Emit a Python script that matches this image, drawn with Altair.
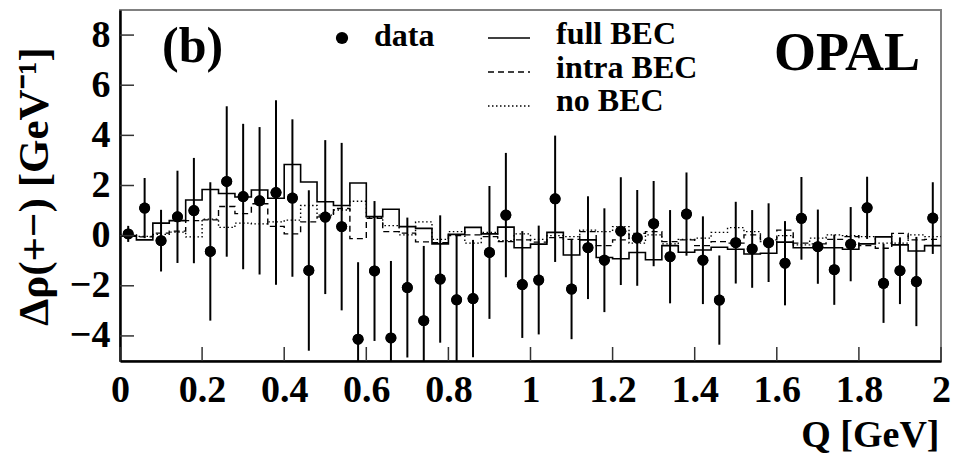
import altair as alt
import pandas as pd

# ---- data ----
q_centers = [round(0.02 + 0.04 * i, 2) for i in range(50)]
q_edges = [round(0.04 * i, 2) for i in range(51)]

data_y = [0.07, 1.10, -0.20, 0.75, 1.00, -0.63, 2.16, 1.56, 1.39, 1.72,
          1.50, -1.39, 0.74, 0.36, -4.13, -1.41, -4.08, -2.07, -3.39, -1.73,
          -2.56, -2.51, -0.67, 0.82, -1.95, -1.77, 1.47, -2.13, -0.48, -0.98,
          0.18, -0.09, 0.48, -0.84, 0.86, -0.98, -2.57, -0.28, -0.53, -0.28,
          -1.10, 0.69, -0.44, -1.36, -0.34, 1.11, -1.90, -1.40, -1.83, 0.70]

data_err = [0.32, 1.20, 1.23, 1.84, 2.10, 2.76, 3.00, 2.90, 2.94, 3.68,
            3.14, 3.20, 3.07, 3.34, 3.07, 2.79, 3.07, 2.79, 2.98, 2.54,
            2.59, 2.34, 2.65, 2.48, 2.13, 2.17, 2.52, 2.00, 2.05, 2.07,
            2.15, 1.91, 1.70, 1.86, 1.66, 1.75, 1.78, 1.63, 1.55, 1.57,
            1.68, 1.65, 1.48, 1.40, 1.48, 1.24, 1.58, 1.33, 1.78, 1.43]

full_bec = [0.00, -0.17, 0.50, 0.60, 1.42, 1.84, 1.68, 1.54, 1.82, 1.49,
            2.84, 2.14, 1.35, 1.20, 2.10, 0.76, 1.05, 0.36, 0.29, -0.33,
            0.05, 0.33, 0.07, 0.34, -0.48, -0.34, 0.13, -0.77, -0.17, -0.87,
            -0.92, -0.67, -0.96, -0.40, -0.66, -0.57, -0.46, -0.54, -0.73, -0.70,
            -0.26, -0.48, -0.48, -0.48, -0.54, -0.33, -0.05, -0.37, -0.61, -0.40]

intra_bec = [-0.03, -0.05, 0.10, 0.18, 0.60, 0.63, 1.16, 0.88, 1.27, 0.37,
             0.07, 0.55, 0.75, 1.08, -0.12, 0.69, 0.16, 0.10, -0.25, -0.28,
             0.00, 0.03, -0.04, -0.24, -0.17, -0.26, -0.08, -0.15, 0.16, -0.40,
             -0.17, 0.09, 0.16, -0.24, -0.17, -0.40, -0.24, -0.30, 0.03, -0.17,
             0.22, -0.30, -0.33, -0.15, -0.04, -0.40, -0.50, 0.09, -0.17, -0.15]

no_bec = [0.03, -0.03, 0.05, 0.14, -0.05, 0.66, 0.33, 0.50, 0.47, 0.55,
          0.62, 1.20, 0.82, 1.02, 1.37, 0.73, 0.40, 0.03, 0.55, -0.15,
          0.16, -0.30, 0.13, -0.20, 0.07, -0.15, 0.00, -0.04, 0.22, 0.16,
          0.36, -0.30, 0.03, -0.33, -0.15, -0.10, 0.13, 0.32, 0.16, -0.24,
          0.00, -0.37, -0.10, 0.03, 0.00, -0.04, -0.30, -0.30, 0.03, -0.04]

y_ticks = [-4, -2, 0, 2, 4, 6, 8]
x_ticks = [0, 0.2, 0.4, 0.6, 0.8, 1.0, 1.2, 1.4, 1.6, 1.8, 2.0]

FONT = "Liberation Serif, Times New Roman, Times, serif"
W, H = 821, 351

pts = pd.DataFrame({"q": q_centers, "y": data_y,
                    "lo": [a - b for a, b in zip(data_y, data_err)],
                    "hi": [a + b for a, b in zip(data_y, data_err)]})


def step_df(vals):
    return pd.DataFrame({"q": q_edges, "v": list(vals) + [vals[-1]]})


xs = alt.Scale(domain=[0, 2], nice=False, zero=False)
ys = alt.Scale(domain=[-5, 9], nice=False, zero=False)

x_enc = alt.X("q:Q", scale=xs, axis=alt.Axis(
    values=x_ticks, format="~g", ticks=False, grid=False, labelFont=FONT,
    labelFontSize=38, labelFontWeight="bold", labelColor="black", labelPadding=10,
    domainColor="black", domainWidth=2.5, labelFlush=False,
    title="Q [GeV]", titleFont=FONT, titleFontSize=38, titleFontWeight="bold",
    titleColor="black", titleAnchor="end", titleAlign="right", titleX=W - 2,
    titleY=85, titleBaseline="alphabetic"))
y_enc = alt.Y("y:Q", scale=ys, axis=alt.Axis(
    values=y_ticks, ticks=False, grid=False, labelFont=FONT, labelFontSize=38,
    labelFontWeight="bold", labelColor="black", labelPadding=10,
    domainColor="black", domainWidth=2.5, labelFlush=False,
    title="Δρ(+−) [GeV⁻¹]", titleFont=FONT, titleFontSize=43,
    titleFontWeight="bold", titleColor="black", titleX=-86, titleY=176,
    titleAlign="center", titleBaseline="middle", titleAngle=-90))

err = alt.Chart(pts).mark_rule(color="black", strokeWidth=2, clip=True).encode(
    x=alt.X("q:Q", scale=xs), y=alt.Y("lo:Q", scale=ys), y2="hi:Q")
dots = alt.Chart(pts).mark_circle(color="black", opacity=1, size=120, clip=True).encode(
    x=x_enc, y=y_enc)

full_l = alt.Chart(step_df(full_bec)).mark_line(
    interpolate="step-after", color="black", strokeWidth=1.6, clip=True).encode(
    x=alt.X("q:Q", scale=xs), y=alt.Y("v:Q", scale=ys))
intra_l = alt.Chart(step_df(intra_bec)).mark_line(
    interpolate="step-after", color="black", strokeWidth=1.4, strokeDash=[6, 4], clip=True).encode(
    x=alt.X("q:Q", scale=xs), y=alt.Y("v:Q", scale=ys))
no_l = alt.Chart(step_df(no_bec)).mark_line(
    interpolate="step-after", color="black", strokeWidth=1.4, strokeDash=[1.5, 2.5], clip=True).encode(
    x=alt.X("q:Q", scale=xs), y=alt.Y("v:Q", scale=ys))

yt = alt.Chart(pd.DataFrame({"v": y_ticks})).mark_rule(color="#333", strokeWidth=1.5).encode(
    y=alt.Y("v:Q", scale=ys), x=alt.value(0), x2=alt.value(14))
xt = alt.Chart(pd.DataFrame({"v": x_ticks})).mark_rule(color="#333", strokeWidth=1.5).encode(
    x=alt.X("v:Q", scale=xs), y=alt.value(H), y2=alt.value(H - 14))

one = pd.DataFrame({"a": [0]})
txt_b = alt.Chart(one).mark_text(text="(b)", font=FONT, fontSize=50, fontWeight="bold",
                                 align="left", baseline="alphabetic", color="black").encode(
    x=alt.value(42), y=alt.value(52))
txt_opal = alt.Chart(one).mark_text(text="OPAL", font=FONT, fontSize=54, fontWeight="bold",
                                    align="right", baseline="alphabetic", color="black").encode(
    x=alt.value(800), y=alt.value(60))

LEG = 32
leg_dot = alt.Chart(one).mark_circle(color="black", opacity=1, size=150).encode(
    x=alt.value(222), y=alt.value(28))
leg_data = alt.Chart(one).mark_text(text="data", font=FONT, fontSize=LEG, fontWeight="bold",
                                    align="left", baseline="alphabetic", color="black").encode(
    x=alt.value(254), y=alt.value(36))
leg_full = alt.Chart(one).mark_rule(color="black", strokeWidth=1.6).encode(
    x=alt.value(368), x2=alt.value(410), y=alt.value(28))
leg_intra = alt.Chart(one).mark_rule(color="black", strokeWidth=1.4, strokeDash=[6, 4]).encode(
    x=alt.value(368), x2=alt.value(410), y=alt.value(62))
leg_no = alt.Chart(one).mark_rule(color="black", strokeWidth=1.4, strokeDash=[1.5, 2.5]).encode(
    x=alt.value(368), x2=alt.value(410), y=alt.value(96))
lab_full = alt.Chart(one).mark_text(text="full BEC", font=FONT, fontSize=LEG, fontWeight="bold",
                                    align="left", baseline="alphabetic", color="black").encode(
    x=alt.value(436), y=alt.value(34))
lab_intra = alt.Chart(one).mark_text(text="intra BEC", font=FONT, fontSize=LEG, fontWeight="bold",
                                     align="left", baseline="alphabetic", color="black").encode(
    x=alt.value(436), y=alt.value(68))
lab_no = alt.Chart(one).mark_text(text="no BEC", font=FONT, fontSize=LEG, fontWeight="bold",
                                  align="left", baseline="alphabetic", color="black").encode(
    x=alt.value(436), y=alt.value(101))

chart = alt.layer(
    dots, no_l, intra_l, full_l, err, dots, yt, xt,
    txt_b, txt_opal, leg_dot, leg_data, leg_full, leg_intra, leg_no,
    lab_full, lab_intra, lab_no
).properties(
    width=W, height=H,
    autosize=alt.AutoSizeParams(type="none"),
    padding={"left": 120, "top": 10, "right": 14, "bottom": 96},
    background="white"
).configure_view(stroke="#808080", strokeWidth=2)

chart.save("out.html", embed_options={"renderer": "svg", "actions": False})
